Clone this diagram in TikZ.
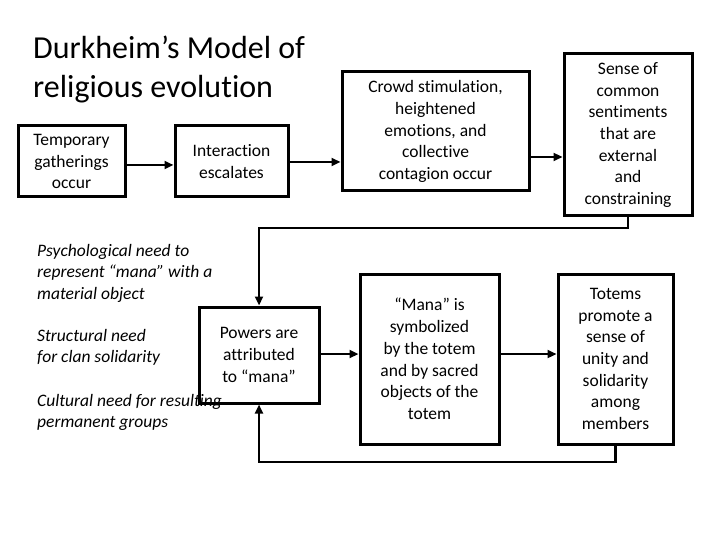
\documentclass[tikz,border=0pt]{standalone}
\usepackage{fontspec}
\setmainfont{Carlito}[Ligatures=NoCommon]
\usetikzlibrary{arrows.meta}
\tikzset{
  box/.style={draw=black, line width=3pt, fill=white, align=center, inner sep=0pt,
    font=\fontsize{17.5}{21.7}\selectfont},
  arr/.style={line width=2.4pt, -{Triangle[length=9pt,width=8pt]}},
  note/.style={align=left, anchor=west, inner sep=0pt, font=\fontsize{17.5}{21.5}\selectfont\itshape},
  title/.style={align=left, anchor=west, inner sep=0pt, font=\fontsize{32}{39}\selectfont}
}
\begin{document}
\begin{tikzpicture}[x=1pt,y=-1pt]
\useasboundingbox (0,0) rectangle (720,540);
\node[title] (ttl) at (33,69) {Durkheim’s Model of\\religious evolution};
\node[note] (n1) at (37,273) {Psychological need to\\represent “mana” with a\\material object};
\node[note] (n2) at (37,347.5) {Structural need\\for clan solidarity};
\node[note] (n3) at (37,412.5) {Cultural need for resulting\\permanent groups};
\node[box, minimum width=107pt, minimum height=71pt] (b1) at (71.5,161.5) {Temporary\\gatherings\\occur};
\node[box, minimum width=113pt, minimum height=71pt] (b2) at (231.5,161.5) {Interaction\\escalates};
\node[box, minimum width=187pt, minimum height=119pt] (b3) at (435.5,131.5) {Crowd stimulation,\\heightened\\emotions, and\\collective\\contagion occur};
\node[box, minimum width=128pt, minimum height=162pt] (b4) at (628,135) {Sense of\\common\\sentiments\\that are\\external\\and\\constraining};
\node[box, minimum width=120pt, minimum height=96pt, fill=none] (b5) at (259,355) {Powers are\\attributed\\to “mana”};
\node[box, minimum width=139pt, minimum height=170pt] (b6) at (429.5,359) {“Mana” is\\symbolized\\by the totem\\and by sacred\\objects of the\\totem};
\node[box, minimum width=115pt, minimum height=170pt] (b7) at (615.5,359) {Totems\\promote a\\sense of\\unity and\\solidarity\\among\\members};
\coordinate (y1) at (0,165);
\coordinate (y2) at (0,162);
\coordinate (y3) at (0,157);
\coordinate (y4) at (0,354);
\coordinate (topbus) at (259,228);
\coordinate (botbus) at (259,462);
\draw[arr] (b1.east |- y1) -- (b2.west |- y1);
\draw[arr] (b2.east |- y2) -- (b3.west |- y2);
\draw[arr] (b3.east |- y3) -- (b4.west |- y3);
\draw[arr] (b5.east |- y4) -- (b6.west |- y4);
\draw[arr] (b6.east |- y4) -- (b7.west |- y4);
\draw[arr] (b4.south) |- (topbus) -- (b5.north);
\draw[arr] (b7.south) |- (botbus) -- (b5.south);
\end{tikzpicture}
\end{document}
